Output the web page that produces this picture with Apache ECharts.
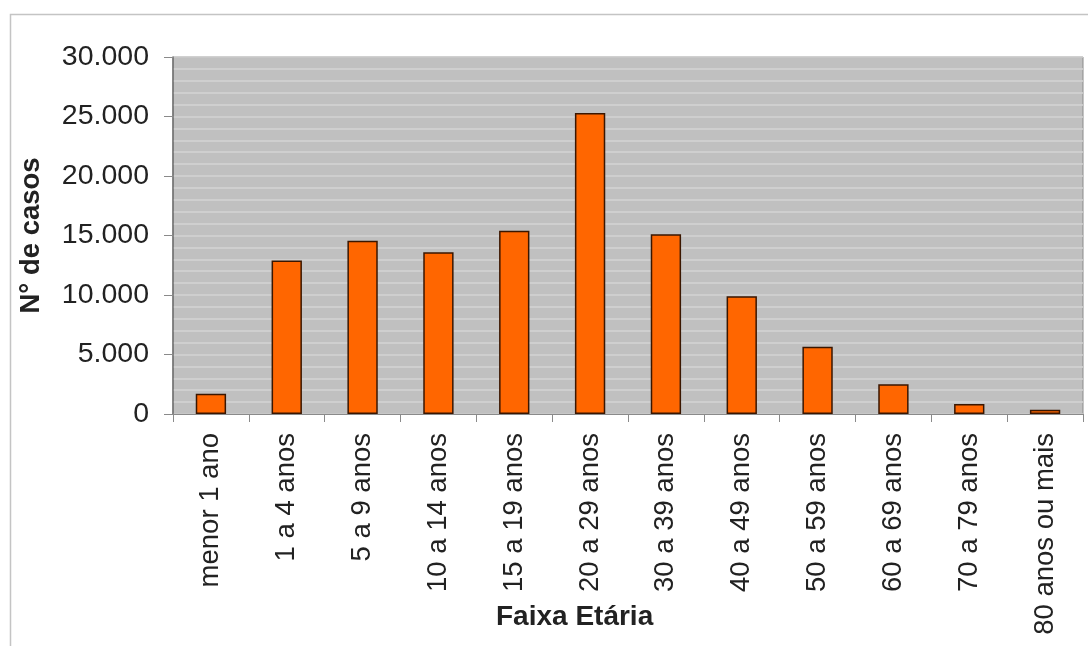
<!DOCTYPE html>
<html>
<head>
<meta charset="utf-8">
<script src="https://cdn.jsdelivr.net/npm/echarts@6/dist/echarts.min.js"></script>
<style>
html,body{margin:0;padding:0;background:#fff;}
#chart{width:1088px;height:646px;}
</style>
</head>
<body>
<div id="chart"></div>
<script>
var categories = ['menor 1 ano','1 a 4 anos','5 a 9 anos','10 a 14 anos','15 a 19 anos','20 a 29 anos','30 a 39 anos','40 a 49 anos','50 a 59 anos','60 a 69 anos','70 a 79 anos','80 anos ou mais'];
var casos = [1700, 12900, 14550, 13600, 15400, 25300, 15100, 9900, 5650, 2500, 850, 350];
var yTicks = [0, 5000, 10000, 15000, 20000, 25000, 30000];

function fmt(v){ return String(v).replace(/\B(?=(\d{3})+(?!\d))/g, '.'); }

var FONT = '"Liberation Sans", Arial, sans-serif';
var chart = echarts.init(document.getElementById('chart'), null, {renderer:'canvas'});
chart.setOption({
  animation:false,
  backgroundColor:'#fff',
  title:{
    text:'Faixa Etária', left:491, top:598,
    textStyle:{fontFamily:FONT, fontSize:28, fontWeight:'bold', color:'#222'}
  },
  graphic:[{
    type:'rect', silent:true, z:-1,
    shape:{x:10.5, y:14.5, width:1200, height:800},
    style:{fill:'none', stroke:'#c4c4c4', lineWidth:1.5}
  }],
  grid:{left:173, right:5, top:57, bottom:232, show:true, backgroundColor:'#c0c0c0', borderColor:'#8a8a8a', borderWidth:1},
  xAxis:{
    type:'category', data:categories,
    axisLine:{lineStyle:{color:'#8a8a8a', width:1}},
    axisTick:{show:true, alignWithLabel:false, length:8, lineStyle:{color:'#8a8a8a'}},
    axisLabel:{rotate:90, margin:19, interval:0, fontFamily:FONT, fontSize:27.5, color:'#222'}
  },
  yAxis:{
    type:'value', min:yTicks[0], max:yTicks[yTicks.length-1], interval:5000,
    name:'N° de casos', nameLocation:'middle', nameGap:128,
    nameTextStyle:{fontFamily:FONT, fontSize:27.5, fontWeight:'bold', color:'#222'},
    axisLine:{show:true, lineStyle:{color:'#707070', width:1.5}},
    axisTick:{show:true, length:9, lineStyle:{color:'#8a8a8a'}},
    axisLabel:{margin:24, fontFamily:FONT, fontSize:28.5, color:'#222', formatter:function(v){return fmt(v);}},
    splitLine:{show:true, lineStyle:{color:'#d3d3d3', width:1.5}},
    minorTick:{show:false, splitNumber:5},
    minorSplitLine:{show:true, lineStyle:{color:'#d3d3d3', width:1.5}}
  },
  series:[{
    type:'bar', data:casos, barWidth:'40%',
    itemStyle:{color:'#ff6600', borderColor:'#3a1600', borderWidth:1.5}
  }]
});
</script>
</body>
</html>
